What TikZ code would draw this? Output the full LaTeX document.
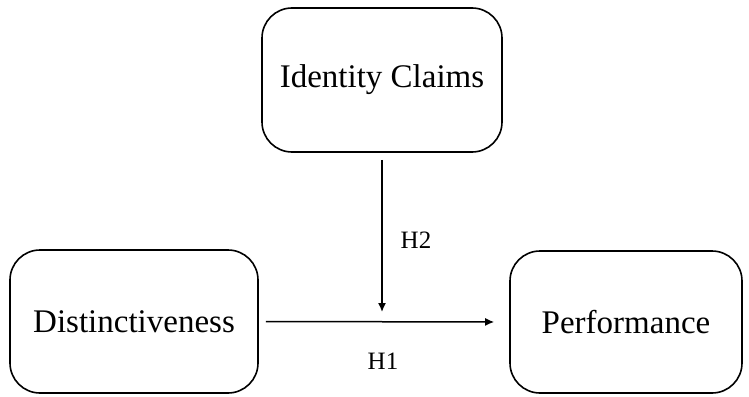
\documentclass[tikz,border=0pt]{standalone}
\usepackage{fontspec}
\setmainfont{Liberation Serif}
\usepackage{tikz}
\usetikzlibrary{positioning,arrows.meta}

\tikzset{
  caja/.style={draw, line width=1.6pt, rounded corners=30pt, inner sep=0pt,
    font=\fontsize{33}{38}\selectfont},
  flecha/.style={line width=1.5pt, -{Latex[length=9pt,width=8pt]}},
  etiqueta/.style={font=\fontsize{25}{30}\selectfont}
}

\begin{document}
\begin{tikzpicture}[x=1pt,y=-1pt]
  \useasboundingbox (0,0) rectangle (749,396);

  % Cajas
  \node[caja, minimum width=240pt, minimum height=144pt] (claims) at (382,80) {Identity Claims};
  \node[caja, minimum width=248pt, minimum height=143pt] (dist) at (134,321.5) {Distinctiveness};
  \node[caja, minimum width=232pt, minimum height=142pt] (perf) at (626,322) {Performance};

  % Punto donde llega la moderacion
  \coordinate (mod) at (382,312);

  % Flechas
  \draw[flecha, shorten <=7pt] (claims.south) -- (mod);
  \draw[flecha, shorten <=7pt, shorten >=15pt] (dist.east) -- (perf.west);

  % Etiquetas
  \node[etiqueta] (h2) at (416,240) {H2};
  \node[etiqueta] (h1) at (383,361) {H1};
\end{tikzpicture}
\end{document}
